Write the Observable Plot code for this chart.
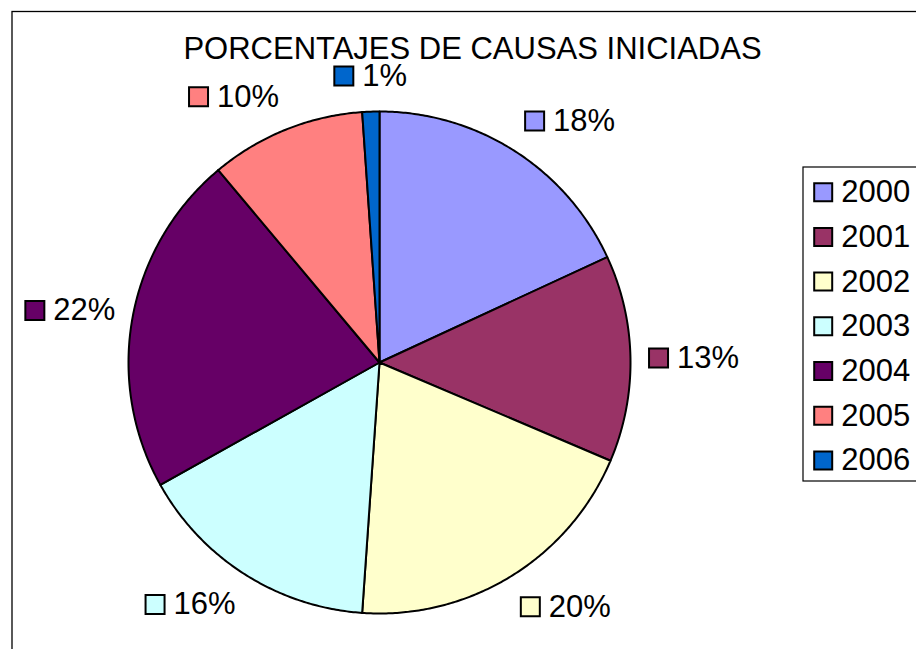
<!DOCTYPE html>
<html><head><meta charset="utf-8">
<script src="https://cdn.jsdelivr.net/npm/d3@7"></script>
<script src="https://cdn.jsdelivr.net/npm/@observablehq/plot@0.6"></script>
<style>html,body{margin:0;padding:0;background:#fff;} svg{display:block}</style>
</head><body><div id="chart"></div>
<script>
// ---- data ----
const title = "PORCENTAJES DE CAUSAS INICIADAS";
const years = ["2000", "2001", "2002", "2003", "2004", "2005", "2006"];
const shares = [18.1, 13.3, 19.7, 15.8, 22.0, 10.0, 1.1];
const percentLabels = ["18%", "13%", "20%", "16%", "22%", "10%", "1%"];
const colors = ["#9999FF", "#993366", "#FFFFCC", "#CCFFFF", "#660066", "#FF8080", "#0066CC"];

// ---- layout ----
const W = 916, H = 649, CX = 379, CY = 362, R = 251;
const FONT = "'Liberation Sans', Arial, Helvetica, sans-serif";
const FS = 31;
const px2x = px => (px - CX) / R;
const py2y = py => (CY - py) / R;
const u = p => p / R;

const pie = d3.pie().sort(null).value(d => d)(shares);

const slices = pie.map((p, i) => {
  const pts = [{x: 0, y: 0}];
  const n = Math.max(2, Math.ceil((p.endAngle - p.startAngle) / (Math.PI / 360)));
  for (let k = 0; k <= n; k++) {
    const a = p.startAngle + (p.endAngle - p.startAngle) * k / n;
    pts.push({x: Math.sin(a), y: Math.cos(a)});
  }
  pts.push({x: 0, y: 0});
  return {year: years[i], color: colors[i], pts};
});

const BOX = 21, GAP = 8;
const textW = s => (s.length - 1) * 0.556 * FS + 0.889 * FS;
const labels = pie.map((p, i) => {
  const m = (p.startAngle + p.endAngle) / 2, s = Math.sin(m), c = Math.cos(m);
  const ax = 1.07 * s, ay = 1.10 * c;
  const gw = u(BOX + GAP + textW(percentLabels[i]));
  const left = s > 0.1 ? ax : s < -0.1 ? ax - gw : ax - gw / 2;
  const yc = ay + u(BOX / 2) * c;
  return {label: percentLabels[i], color: colors[i], bx: left + u(BOX / 2), tx: left + u(BOX + GAP), y: yc};
});

const legendItems = years.map((yr, i) => ({year: yr, color: colors[i], y: py2y(191.7 + 44.7 * i)}));

const SQ_R = 19 / Math.sqrt(Math.PI);

const chart = Plot.plot({
  width: W, height: H, margin: 0,
  x: {axis: null, domain: [px2x(0), px2x(W)]},
  y: {axis: null, domain: [py2y(H), py2y(0)]},
  color: {type: "identity"},
  style: {fontFamily: FONT, background: "white"},
  marks: [
    Plot.rect([0], {x1: () => px2x(12), x2: () => px2x(W + 20), y1: () => py2y(11.5), y2: () => py2y(H + 20), fill: "none", stroke: "black", strokeWidth: 1.3}),
    ...slices.map(s => Plot.line(s.pts, {x: "x", y: "y", fill: s.color, stroke: "black", strokeWidth: 2, curve: "linear", strokeLinejoin: "round"})),
    Plot.dot(labels, {x: "bx", y: "y", symbol: "square", r: SQ_R, fill: "color", stroke: "black", strokeWidth: 2}),
    Plot.text(labels, {x: "tx", y: "y", text: "label", textAnchor: "start", fontSize: FS, fontFamily: FONT, fill: "black"}),
    Plot.text([title], {x: () => px2x(472), y: () => py2y(49), text: d => d, fontSize: FS, fontFamily: FONT, fill: "black"}),
    Plot.rect([0], {x1: () => px2x(803), x2: () => px2x(W + 30), y1: () => py2y(167), y2: () => py2y(481), fill: "white", stroke: "black", strokeWidth: 1.2}),
    Plot.dot(legendItems, {x: () => px2x(822.7), y: "y", symbol: "square", r: 18 / Math.sqrt(Math.PI), fill: "color", stroke: "black", strokeWidth: 2}),
    Plot.text(legendItems, {x: () => px2x(840.7), y: "y", text: "year", textAnchor: "start", fontSize: FS, fontFamily: FONT, fill: "black"})
  ]
});
document.getElementById("chart").appendChild(chart);
</script>
</body></html>
